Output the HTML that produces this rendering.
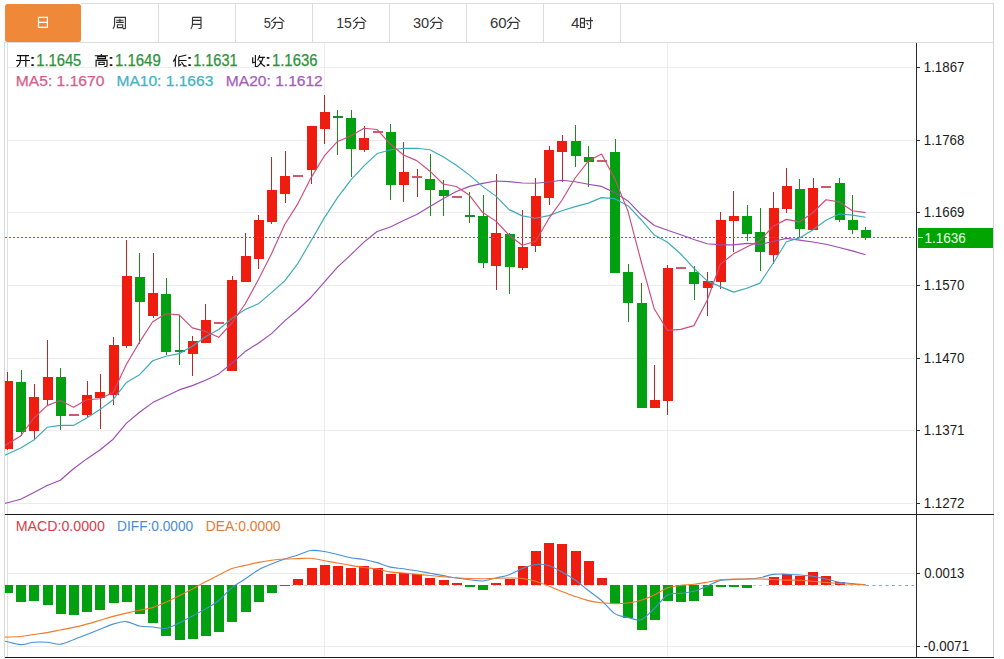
<!DOCTYPE html><html><head><meta charset='utf-8'><style>html,body{margin:0;padding:0;background:#fff;}body{width:1004px;height:659px;overflow:hidden;position:relative;}svg{display:block;position:absolute;left:0;top:0;}</style></head><body>
<svg width='1004' height='659' viewBox='0 0 1004 659' shape-rendering='auto'>
<rect x='0' y='0' width='1004' height='659' fill='#fff'/>
<g shape-rendering='crispEdges'>
<rect x='81' y='3' width='913' height='1' fill='#dcdcdc'/>
<rect x='5' y='42' width='989' height='1' fill='#dcdcdc'/>
<rect x='993' y='3' width='1' height='655' fill='#d4d4d4'/>
<rect x='4' y='42' width='1' height='616' fill='#d8d8d8'/>
<rect x='7' y='42' width='1' height='616' fill='#e0e0e0'/>
<rect x='158' y='4' width='1' height='38' fill='#dcdcdc'/>
<rect x='235' y='4' width='1' height='38' fill='#dcdcdc'/>
<rect x='312' y='4' width='1' height='38' fill='#dcdcdc'/>
<rect x='389' y='4' width='1' height='38' fill='#dcdcdc'/>
<rect x='466' y='4' width='1' height='38' fill='#dcdcdc'/>
<rect x='543' y='4' width='1' height='38' fill='#dcdcdc'/>
<rect x='620' y='4' width='1' height='38' fill='#dcdcdc'/>
</g>
<rect x='5' y='4' width='76' height='38' rx='2.5' fill='#f0883a'/>
<g shape-rendering='crispEdges'>
<rect x='8' y='67' width='906' height='1' fill='#ececec'/>
<rect x='8' y='140' width='906' height='1' fill='#ececec'/>
<rect x='8' y='212' width='906' height='1' fill='#ececec'/>
<rect x='8' y='285' width='906' height='1' fill='#ececec'/>
<rect x='8' y='358' width='906' height='1' fill='#ececec'/>
<rect x='8' y='430' width='906' height='1' fill='#ececec'/>
<rect x='8' y='503' width='906' height='1' fill='#ececec'/>
<rect x='8' y='573' width='906' height='1' fill='#ececec'/>
<rect x='8' y='646' width='906' height='1' fill='#ececec'/>
<rect x='324' y='43' width='1' height='614' fill='#ececec'/>
<rect x='667' y='43' width='1' height='614' fill='#ececec'/>
</g>
<defs><clipPath id='cl'><rect x='5' y='43' width='911' height='615'/></clipPath></defs>
<g shape-rendering='crispEdges' clip-path='url(#cl)'>
<rect x='7' y='372' width='1' height='78' fill='#b42a2a'/>
<rect x='3' y='381' width='10' height='68' fill='#ee1d10'/>
<rect x='21' y='370' width='1' height='66' fill='#1a8a1a'/>
<rect x='16' y='382' width='10' height='50' fill='#00a010'/>
<rect x='34' y='384' width='1' height='56' fill='#b42a2a'/>
<rect x='29' y='397' width='10' height='34' fill='#ee1d10'/>
<rect x='47' y='340' width='1' height='66' fill='#b42a2a'/>
<rect x='43' y='377' width='10' height='23' fill='#ee1d10'/>
<rect x='60' y='368' width='1' height='62' fill='#1a8a1a'/>
<rect x='56' y='377' width='10' height='39' fill='#00a010'/>
<rect x='69' y='414' width='10' height='2' fill='#cf5a6a'/>
<rect x='87' y='381' width='1' height='37' fill='#b42a2a'/>
<rect x='82' y='395' width='10' height='20' fill='#ee1d10'/>
<rect x='100' y='374' width='1' height='55' fill='#b42a2a'/>
<rect x='95' y='392' width='10' height='6' fill='#ee1d10'/>
<rect x='113' y='337' width='1' height='68' fill='#b42a2a'/>
<rect x='109' y='345' width='10' height='50' fill='#ee1d10'/>
<rect x='126' y='240' width='1' height='108' fill='#b42a2a'/>
<rect x='122' y='276' width='10' height='70' fill='#ee1d10'/>
<rect x='139' y='253' width='1' height='91' fill='#1a8a1a'/>
<rect x='135' y='277' width='10' height='25' fill='#00a010'/>
<rect x='153' y='253' width='1' height='65' fill='#b42a2a'/>
<rect x='148' y='293' width='10' height='23' fill='#ee1d10'/>
<rect x='166' y='278' width='1' height='77' fill='#1a8a1a'/>
<rect x='161' y='294' width='10' height='58' fill='#00a010'/>
<rect x='179' y='315' width='1' height='50' fill='#1a8a1a'/>
<rect x='175' y='350' width='10' height='2' fill='#1a8a2a'/>
<rect x='192' y='336' width='1' height='40' fill='#b42a2a'/>
<rect x='188' y='341' width='10' height='13' fill='#ee1d10'/>
<rect x='205' y='304' width='1' height='39' fill='#b42a2a'/>
<rect x='201' y='320' width='10' height='23' fill='#ee1d10'/>
<rect x='214' y='322' width='10' height='2' fill='#cf5a6a'/>
<rect x='232' y='276' width='1' height='95' fill='#b42a2a'/>
<rect x='227' y='280' width='10' height='91' fill='#ee1d10'/>
<rect x='245' y='233' width='1' height='49' fill='#b42a2a'/>
<rect x='241' y='256' width='10' height='26' fill='#ee1d10'/>
<rect x='258' y='215' width='1' height='54' fill='#b42a2a'/>
<rect x='254' y='220' width='10' height='39' fill='#ee1d10'/>
<rect x='271' y='157' width='1' height='67' fill='#b42a2a'/>
<rect x='267' y='190' width='10' height='32' fill='#ee1d10'/>
<rect x='285' y='151' width='1' height='52' fill='#b42a2a'/>
<rect x='280' y='176' width='10' height='18' fill='#ee1d10'/>
<rect x='293' y='175' width='10' height='2' fill='#cf5a6a'/>
<rect x='311' y='126' width='1' height='58' fill='#b42a2a'/>
<rect x='307' y='126' width='10' height='44' fill='#ee1d10'/>
<rect x='324' y='95' width='1' height='49' fill='#b42a2a'/>
<rect x='320' y='112' width='10' height='17' fill='#ee1d10'/>
<rect x='337' y='110' width='1' height='45' fill='#1a8a1a'/>
<rect x='333' y='116' width='10' height='2' fill='#1a8a2a'/>
<rect x='351' y='110' width='1' height='67' fill='#1a8a1a'/>
<rect x='346' y='118' width='10' height='31' fill='#00a010'/>
<rect x='364' y='126' width='1' height='26' fill='#b42a2a'/>
<rect x='359' y='138' width='10' height='12' fill='#ee1d10'/>
<rect x='373' y='131' width='10' height='2' fill='#cf5a6a'/>
<rect x='390' y='124' width='1' height='76' fill='#1a8a1a'/>
<rect x='386' y='132' width='10' height='53' fill='#00a010'/>
<rect x='403' y='142' width='1' height='60' fill='#b42a2a'/>
<rect x='399' y='172' width='10' height='13' fill='#ee1d10'/>
<rect x='417' y='169' width='1' height='28' fill='#b42a2a'/>
<rect x='412' y='176' width='10' height='2' fill='#cf5a6a'/>
<rect x='430' y='154' width='1' height='62' fill='#1a8a1a'/>
<rect x='425' y='179' width='10' height='11' fill='#00a010'/>
<rect x='443' y='180' width='1' height='36' fill='#1a8a1a'/>
<rect x='439' y='190' width='10' height='6' fill='#00a010'/>
<rect x='452' y='196' width='10' height='2' fill='#cf5a6a'/>
<rect x='469' y='192' width='1' height='31' fill='#1a8a1a'/>
<rect x='465' y='215' width='10' height='2' fill='#1a8a2a'/>
<rect x='483' y='195' width='1' height='73' fill='#1a8a1a'/>
<rect x='478' y='216' width='10' height='47' fill='#00a010'/>
<rect x='496' y='174' width='1' height='116' fill='#b42a2a'/>
<rect x='491' y='233' width='10' height='33' fill='#ee1d10'/>
<rect x='509' y='233' width='1' height='61' fill='#1a8a1a'/>
<rect x='505' y='234' width='10' height='33' fill='#00a010'/>
<rect x='522' y='210' width='1' height='60' fill='#b42a2a'/>
<rect x='518' y='247' width='10' height='21' fill='#ee1d10'/>
<rect x='535' y='178' width='1' height='74' fill='#b42a2a'/>
<rect x='531' y='196' width='10' height='50' fill='#ee1d10'/>
<rect x='549' y='146' width='1' height='59' fill='#b42a2a'/>
<rect x='544' y='150' width='10' height='48' fill='#ee1d10'/>
<rect x='562' y='135' width='1' height='47' fill='#b42a2a'/>
<rect x='557' y='141' width='10' height='11' fill='#ee1d10'/>
<rect x='575' y='125' width='1' height='42' fill='#1a8a1a'/>
<rect x='571' y='141' width='10' height='15' fill='#00a010'/>
<rect x='588' y='146' width='1' height='41' fill='#1a8a1a'/>
<rect x='584' y='157' width='10' height='5' fill='#00a010'/>
<rect x='597' y='160' width='10' height='2' fill='#cf5a6a'/>
<rect x='615' y='139' width='1' height='134' fill='#1a8a1a'/>
<rect x='610' y='152' width='10' height='121' fill='#00a010'/>
<rect x='628' y='264' width='1' height='58' fill='#1a8a1a'/>
<rect x='623' y='272' width='10' height='31' fill='#00a010'/>
<rect x='641' y='283' width='1' height='125' fill='#1a8a1a'/>
<rect x='637' y='303' width='10' height='105' fill='#00a010'/>
<rect x='654' y='365' width='1' height='43' fill='#b42a2a'/>
<rect x='650' y='400' width='10' height='8' fill='#ee1d10'/>
<rect x='667' y='265' width='1' height='150' fill='#b42a2a'/>
<rect x='663' y='268' width='10' height='133' fill='#ee1d10'/>
<rect x='676' y='267' width='10' height='2' fill='#cf5a6a'/>
<rect x='694' y='266' width='1' height='34' fill='#1a8a1a'/>
<rect x='689' y='272' width='10' height='12' fill='#00a010'/>
<rect x='707' y='272' width='1' height='44' fill='#b42a2a'/>
<rect x='703' y='281' width='10' height='7' fill='#ee1d10'/>
<rect x='720' y='212' width='1' height='77' fill='#b42a2a'/>
<rect x='716' y='220' width='10' height='62' fill='#ee1d10'/>
<rect x='733' y='191' width='1' height='61' fill='#b42a2a'/>
<rect x='729' y='216' width='10' height='5' fill='#ee1d10'/>
<rect x='747' y='205' width='1' height='36' fill='#1a8a1a'/>
<rect x='742' y='216' width='10' height='18' fill='#00a010'/>
<rect x='760' y='208' width='1' height='63' fill='#1a8a1a'/>
<rect x='755' y='232' width='10' height='20' fill='#00a010'/>
<rect x='773' y='192' width='1' height='72' fill='#b42a2a'/>
<rect x='769' y='208' width='10' height='47' fill='#ee1d10'/>
<rect x='786' y='168' width='1' height='45' fill='#b42a2a'/>
<rect x='782' y='186' width='10' height='23' fill='#ee1d10'/>
<rect x='799' y='179' width='1' height='58' fill='#1a8a1a'/>
<rect x='795' y='189' width='10' height='40' fill='#00a010'/>
<rect x='813' y='178' width='1' height='52' fill='#b42a2a'/>
<rect x='808' y='188' width='10' height='42' fill='#ee1d10'/>
<rect x='821' y='186' width='10' height='2' fill='#cf5a6a'/>
<rect x='839' y='178' width='1' height='44' fill='#1a8a1a'/>
<rect x='835' y='183' width='10' height='37' fill='#00a010'/>
<rect x='852' y='195' width='1' height='39' fill='#1a8a1a'/>
<rect x='848' y='220' width='10' height='10' fill='#00a010'/>
<rect x='865' y='227' width='1' height='13' fill='#1a8a1a'/>
<rect x='861' y='230' width='10' height='8' fill='#00a010'/>
</g>
<defs><clipPath id='cp'><rect x='5' y='43' width='911' height='471'/></clipPath><clipPath id='cm'><rect x='5' y='515' width='911' height='142'/></clipPath></defs>
<g clip-path='url(#cp)'>
<polyline fill='none' stroke='#9c4cb2' stroke-width='1.15' stroke-linejoin='round' points='5,503.34 7.5,502.7 20.7,499.3 33.9,492.4 47.1,485.5 60.3,480.2 73.5,468.8 86.71,458.9 99.91,450 113.11,439.2 126.31,423.4 139.51,412.2 152.71,402.6 165.91,396.2 179.11,389.9 192.31,385.6 205.51,380.3 218.71,373.9 231.92,363.3 245.12,351.6 258.32,343.2 271.52,333.65 284.72,320.82 297.92,309.78 311.12,297.23 324.32,282.06 337.52,267.18 350.72,254.88 363.92,242.16 377.13,231.5 390.33,226.93 403.53,220.41 416.73,214.58 429.93,206.51 443.13,198.78 456.33,191.58 469.53,186.38 482.73,183.41 495.93,181.04 509.13,181.6 522.34,182.95 535.54,183.25 548.74,181.97 561.94,180.21 575.14,181.7 588.34,184.22 601.54,186.41 614.74,192.62 627.94,200.92 641.14,214.69 654.34,225.46 667.55,230.26 680.75,234.82 693.95,239.53 707.15,243.75 720.35,244.9 733.55,244.9 746.75,243.44 759.95,244.41 773.15,241.48 786.35,238.43 799.55,240.06 812.75,241.96 825.96,244.28 839.16,247.47 852.36,250.86 865.56,254.7'/>
<polyline fill='none' stroke='#3aaab8' stroke-width='1.15' stroke-linejoin='round' points='5,455.14 7.5,454 20.7,448 33.9,440 47.1,427.3 60.3,425.4 73.5,425.4 86.71,417.9 99.91,409.6 113.11,399.7 126.31,382.56 139.51,374.7 152.71,360.77 165.91,356.27 179.11,353.67 192.31,346.22 205.51,336.75 218.71,329.53 231.92,318.38 245.12,309.44 258.32,303.84 271.52,292.6 284.72,280.87 297.92,263.29 311.12,240.79 324.32,217.89 337.52,197.61 350.72,180.22 363.92,165.93 377.13,153.56 390.33,150.02 403.53,148.22 416.73,148.3 429.93,149.73 443.13,156.78 456.33,165.28 469.53,175.16 482.73,186.6 495.93,196.15 509.13,209.64 522.34,215.88 535.54,218.28 548.74,215.64 561.94,210.69 575.14,206.62 588.34,203.15 601.54,197.65 614.74,198.65 627.94,205.68 641.14,219.74 654.34,235.04 667.55,242.24 680.75,254.01 693.95,268.36 707.15,280.88 720.35,286.65 733.55,292.15 746.75,288.23 759.95,283.14 773.15,263.21 786.35,241.82 799.55,237.89 812.75,229.91 825.96,220.19 839.16,214.05 852.36,215.06 865.56,217.24'/>
<polyline fill='none' stroke='#cc4c7a' stroke-width='1.15' stroke-linejoin='round' points='5,445.52 7.5,444 20.7,436 33.9,418 47.1,405.6 60.3,400.56 73.5,407.3 86.71,399.78 99.91,398.78 113.11,392.46 126.31,364.56 139.51,342.1 152.71,321.76 165.91,313.76 179.11,314.88 192.31,327.88 205.51,331.4 218.71,337.3 231.92,323 245.12,304 258.32,279.8 271.52,253.8 284.72,224.44 297.92,203.58 311.12,177.58 324.32,155.98 337.52,141.42 350.72,136 363.92,128.28 377.13,129.54 390.33,144.06 403.53,155.02 416.73,160.6 429.93,171.18 443.13,184.02 456.33,186.5 469.53,195.3 482.73,212.6 495.93,221.12 509.13,235.26 522.34,245.26 535.54,241.26 548.74,218.68 561.94,200.26 575.14,177.98 588.34,161.04 601.54,154.04 614.74,178.62 627.94,211.1 641.14,261.5 654.34,309.04 667.55,330.44 680.75,329.4 693.95,325.62 707.15,300.26 720.35,264.26 733.55,253.86 746.75,247.06 759.95,240.66 773.15,226.16 786.35,219.38 799.55,221.92 812.75,212.76 825.96,199.72 839.16,201.94 852.36,210.74 865.56,212.56'/>
</g>
<line x1='5' y1='237.5' x2='914' y2='237.5' stroke='#3a8a3a' stroke-width='1' stroke-dasharray='2,2'/>
<line x1='5' y1='585.5' x2='866' y2='585.5' stroke='#c4d2de' stroke-width='1' stroke-dasharray='3,3.5' shape-rendering='crispEdges'/>
<g shape-rendering='crispEdges' clip-path='url(#cl)'>
<rect x='3' y='585' width='10' height='8' fill='#00a010'/>
<rect x='16' y='585' width='10' height='17' fill='#00a010'/>
<rect x='29' y='585' width='10' height='16' fill='#00a010'/>
<rect x='43' y='585' width='10' height='20' fill='#00a010'/>
<rect x='56' y='585' width='10' height='29' fill='#00a010'/>
<rect x='69' y='585' width='10' height='30' fill='#00a010'/>
<rect x='82' y='585' width='10' height='27' fill='#00a010'/>
<rect x='95' y='585' width='10' height='25' fill='#00a010'/>
<rect x='109' y='585' width='10' height='18' fill='#00a010'/>
<rect x='122' y='585' width='10' height='17' fill='#00a010'/>
<rect x='135' y='585' width='10' height='29' fill='#00a010'/>
<rect x='148' y='585' width='10' height='38' fill='#00a010'/>
<rect x='161' y='585' width='10' height='51' fill='#00a010'/>
<rect x='175' y='585' width='10' height='55' fill='#00a010'/>
<rect x='188' y='585' width='10' height='54' fill='#00a010'/>
<rect x='201' y='585' width='10' height='51' fill='#00a010'/>
<rect x='214' y='585' width='10' height='47' fill='#00a010'/>
<rect x='227' y='585' width='10' height='37' fill='#00a010'/>
<rect x='241' y='585' width='10' height='27' fill='#00a010'/>
<rect x='254' y='585' width='10' height='17' fill='#00a010'/>
<rect x='267' y='585' width='10' height='8' fill='#00a010'/>
<rect x='280' y='585' width='10' height='1' fill='#00a010'/>
<rect x='293' y='579' width='10' height='6' fill='#ee1d10'/>
<rect x='307' y='568' width='10' height='17' fill='#ee1d10'/>
<rect x='320' y='565' width='10' height='20' fill='#ee1d10'/>
<rect x='333' y='566' width='10' height='19' fill='#ee1d10'/>
<rect x='346' y='568' width='10' height='17' fill='#ee1d10'/>
<rect x='359' y='566' width='10' height='19' fill='#ee1d10'/>
<rect x='373' y='568' width='10' height='17' fill='#ee1d10'/>
<rect x='386' y='574' width='10' height='11' fill='#ee1d10'/>
<rect x='399' y='573' width='10' height='12' fill='#ee1d10'/>
<rect x='412' y='574' width='10' height='11' fill='#ee1d10'/>
<rect x='425' y='578' width='10' height='7' fill='#ee1d10'/>
<rect x='439' y='580' width='10' height='5' fill='#ee1d10'/>
<rect x='452' y='583' width='10' height='2' fill='#ee1d10'/>
<rect x='465' y='585' width='10' height='2' fill='#00a010'/>
<rect x='478' y='585' width='10' height='5' fill='#00a010'/>
<rect x='491' y='583' width='10' height='2' fill='#ee1d10'/>
<rect x='505' y='579' width='10' height='6' fill='#ee1d10'/>
<rect x='518' y='566' width='10' height='19' fill='#ee1d10'/>
<rect x='531' y='551' width='10' height='34' fill='#ee1d10'/>
<rect x='544' y='543' width='10' height='42' fill='#ee1d10'/>
<rect x='557' y='544' width='10' height='41' fill='#ee1d10'/>
<rect x='571' y='551' width='10' height='34' fill='#ee1d10'/>
<rect x='584' y='561' width='10' height='24' fill='#ee1d10'/>
<rect x='597' y='578' width='10' height='7' fill='#ee1d10'/>
<rect x='610' y='585' width='10' height='19' fill='#00a010'/>
<rect x='623' y='585' width='10' height='33' fill='#00a010'/>
<rect x='637' y='585' width='10' height='45' fill='#00a010'/>
<rect x='650' y='585' width='10' height='35' fill='#00a010'/>
<rect x='663' y='585' width='10' height='16' fill='#00a010'/>
<rect x='676' y='585' width='10' height='17' fill='#00a010'/>
<rect x='689' y='585' width='10' height='16' fill='#00a010'/>
<rect x='703' y='585' width='10' height='11' fill='#00a010'/>
<rect x='716' y='585' width='10' height='2' fill='#00a010'/>
<rect x='729' y='585' width='10' height='2' fill='#00a010'/>
<rect x='742' y='585' width='10' height='3' fill='#00a010'/>
<rect x='769' y='577' width='10' height='8' fill='#ee1d10'/>
<rect x='782' y='574' width='10' height='11' fill='#ee1d10'/>
<rect x='795' y='576' width='10' height='9' fill='#ee1d10'/>
<rect x='808' y='572' width='10' height='13' fill='#ee1d10'/>
<rect x='821' y='576' width='10' height='9' fill='#ee1d10'/>
<rect x='835' y='582' width='10' height='3' fill='#ee1d10'/>
</g>
<g clip-path='url(#cm)'>
<path fill='none' stroke='#4a90d4' stroke-width='1.1' d='M5,641.27 C5.42,641.36 4.88,641.24 7.5,641.8 C10.12,642.36 16.3,644.52 20.7,644.6 C25.1,644.68 29.5,642.68 33.9,642.3 C38.3,641.92 42.7,641.98 47.1,642.3 C51.5,642.62 55.9,644.63 60.3,644.2 C64.7,643.77 69.1,641.32 73.5,639.7 C77.9,638.08 82.31,636.23 86.71,634.5 C91.11,632.77 95.51,631.03 99.91,629.3 C104.31,627.57 108.71,625.38 113.11,624.1 C117.51,622.82 121.91,621.28 126.31,621.6 C130.71,621.92 135.11,625.1 139.51,626 C143.91,626.9 148.31,626.6 152.71,627 C157.11,627.4 161.51,629.07 165.91,628.4 C170.31,627.73 174.71,625.07 179.11,623 C183.51,620.93 187.91,618.35 192.31,616 C196.71,613.65 201.11,611.48 205.51,608.9 C209.91,606.32 214.31,604.05 218.71,600.5 C223.11,596.95 227.51,591.18 231.92,587.6 C236.32,584.02 240.72,581.93 245.12,579 C249.52,576.07 253.92,572.5 258.32,570 C262.72,567.5 267.12,565.82 271.52,564 C275.92,562.18 280.32,560.62 284.72,559.1 C289.12,557.58 293.52,556.33 297.92,554.9 C302.32,553.47 306.72,551.07 311.12,550.5 C315.52,549.93 319.92,550.83 324.32,551.5 C328.72,552.17 333.12,553.47 337.52,554.5 C341.92,555.53 346.32,556.87 350.72,557.7 C355.12,558.53 359.52,558.68 363.92,559.5 C368.32,560.32 372.72,561.33 377.13,562.6 C381.53,563.87 385.93,566.08 390.33,567.1 C394.73,568.12 399.13,568.08 403.53,568.7 C407.93,569.32 412.33,570.05 416.73,570.8 C421.13,571.55 425.53,572.4 429.93,573.2 C434.33,574 438.73,574.8 443.13,575.6 C447.53,576.4 451.93,577.32 456.33,578 C460.73,578.68 465.13,579.2 469.53,579.7 C473.93,580.2 478.33,581.28 482.73,581 C487.13,580.72 491.53,579.05 495.93,578 C500.33,576.95 504.73,576.28 509.13,574.7 C513.53,573.12 517.93,570.2 522.34,568.5 C526.74,566.8 531.14,565 535.54,564.5 C539.94,564 544.34,564.25 548.74,565.5 C553.14,566.75 557.54,569.58 561.94,572 C566.34,574.42 570.74,576.92 575.14,580 C579.54,583.08 583.94,587.08 588.34,590.5 C592.74,593.92 597.14,596.65 601.54,600.5 C605.94,604.35 610.34,610.77 614.74,613.6 C619.14,616.43 623.54,616.48 627.94,617.5 C632.34,618.52 636.74,621.2 641.14,619.7 C645.54,618.2 649.94,612.62 654.34,608.5 C658.74,604.38 663.14,597.52 667.55,595 C671.95,592.48 676.35,594.02 680.75,593.4 C685.15,592.78 689.55,592.5 693.95,591.3 C698.35,590.1 702.75,588.02 707.15,586.2 C711.55,584.38 715.95,581.52 720.35,580.4 C724.75,579.28 729.15,579.73 733.55,579.5 C737.95,579.27 742.35,579.3 746.75,579 C751.15,578.7 755.55,578.47 759.95,577.7 C764.35,576.93 768.75,574.98 773.15,574.4 C777.55,573.82 781.95,574.1 786.35,574.2 C790.75,574.3 795.15,574.67 799.55,575 C803.95,575.33 808.35,575.53 812.75,576.2 C817.16,576.87 821.56,578 825.96,579 C830.36,580 834.76,581.43 839.16,582.2 C843.56,582.97 847.96,583.18 852.36,583.6 C856.76,584.02 863.36,584.52 865.56,584.7'/>
<path fill='none' stroke='#f07a2a' stroke-width='1.1' d='M5,637.09 C5.42,637.08 4.88,637.1 7.5,637 C10.12,636.9 16.3,636.92 20.7,636.5 C25.1,636.08 29.5,635.15 33.9,634.5 C38.3,633.85 42.7,633.35 47.1,632.6 C51.5,631.85 55.9,630.87 60.3,630 C64.7,629.13 69.1,628.38 73.5,627.4 C77.9,626.42 82.31,625.28 86.71,624.1 C91.11,622.92 95.51,621.58 99.91,620.3 C104.31,619.02 108.71,617.6 113.11,616.4 C117.51,615.2 121.91,614.13 126.31,613.1 C130.71,612.07 135.11,611.12 139.51,610.2 C143.91,609.28 148.31,608.93 152.71,607.6 C157.11,606.27 161.51,604.17 165.91,602.2 C170.31,600.23 174.71,598 179.11,595.8 C183.51,593.6 187.91,591.33 192.31,589 C196.71,586.67 201.11,584.12 205.51,581.8 C209.91,579.48 214.31,577.3 218.71,575.1 C223.11,572.9 227.51,570.22 231.92,568.6 C236.32,566.98 240.72,566.43 245.12,565.4 C249.52,564.37 253.92,563.27 258.32,562.4 C262.72,561.53 267.12,560.77 271.52,560.2 C275.92,559.63 280.32,559.27 284.72,559 C289.12,558.73 293.52,558.72 297.92,558.6 C302.32,558.48 306.72,557.95 311.12,558.3 C315.52,558.65 319.92,559.92 324.32,560.7 C328.72,561.48 333.12,562.22 337.52,563 C341.92,563.78 346.32,564.65 350.72,565.4 C355.12,566.15 359.52,566.9 363.92,567.5 C368.32,568.1 372.72,568.27 377.13,569 C381.53,569.73 385.93,571.23 390.33,571.9 C394.73,572.57 399.13,572.6 403.53,573 C407.93,573.4 412.33,573.88 416.73,574.3 C421.13,574.72 425.53,575.08 429.93,575.5 C434.33,575.92 438.73,576.42 443.13,576.8 C447.53,577.18 451.93,577.52 456.33,577.8 C460.73,578.08 465.13,578.35 469.53,578.5 C473.93,578.65 478.33,578.75 482.73,578.7 C487.13,578.65 491.53,578.32 495.93,578.2 C500.33,578.08 504.73,577.95 509.13,578 C513.53,578.05 517.93,577.97 522.34,578.5 C526.74,579.03 531.14,579.95 535.54,581.2 C539.94,582.45 544.34,584.28 548.74,586 C553.14,587.72 557.54,589.75 561.94,591.5 C566.34,593.25 570.74,594.98 575.14,596.5 C579.54,598.02 583.94,599.55 588.34,600.6 C592.74,601.65 597.14,602.3 601.54,602.8 C605.94,603.3 610.34,603.57 614.74,603.6 C619.14,603.63 623.54,603.57 627.94,603 C632.34,602.43 636.74,601.53 641.14,600.2 C645.54,598.87 649.94,597.07 654.34,595 C658.74,592.93 663.14,589.4 667.55,587.8 C671.95,586.2 676.35,585.98 680.75,585.4 C685.15,584.82 689.55,584.83 693.95,584.3 C698.35,583.77 702.75,582.95 707.15,582.2 C711.55,581.45 715.95,580.33 720.35,579.8 C724.75,579.27 729.15,579.13 733.55,579 C737.95,578.87 742.35,579 746.75,579 C751.15,579 755.55,578.92 759.95,579 C764.35,579.08 768.75,579.32 773.15,579.5 C777.55,579.68 781.95,579.97 786.35,580.1 C790.75,580.23 795.15,580.1 799.55,580.3 C803.95,580.5 808.35,580.93 812.75,581.3 C817.16,581.67 821.56,582.13 825.96,582.5 C830.36,582.87 834.76,583.2 839.16,583.5 C843.56,583.8 847.96,584.1 852.36,584.3 C856.76,584.5 863.36,584.63 865.56,584.7'/>
</g>
<line x1='866' y1='585.5' x2='914' y2='585.5' stroke='#8aa6c0' stroke-width='1' stroke-dasharray='3,3.5'/>
<g shape-rendering='crispEdges'>
<rect x='5' y='514' width='989' height='1' fill='#1a1a1a'/>
<rect x='5' y='657' width='989' height='1' fill='#1a1a1a'/>
<rect x='916' y='43' width='1' height='615' fill='#2a2a2a'/>
<rect x='916' y='67' width='4' height='1' fill='#2a2a2a'/>
<rect x='916' y='140' width='4' height='1' fill='#2a2a2a'/>
<rect x='916' y='212' width='4' height='1' fill='#2a2a2a'/>
<rect x='916' y='285' width='4' height='1' fill='#2a2a2a'/>
<rect x='916' y='358' width='4' height='1' fill='#2a2a2a'/>
<rect x='916' y='430' width='4' height='1' fill='#2a2a2a'/>
<rect x='916' y='503' width='4' height='1' fill='#2a2a2a'/>
<rect x='916' y='573' width='4' height='1' fill='#2a2a2a'/>
<rect x='916' y='646' width='4' height='1' fill='#2a2a2a'/>
</g>
<g font-family="'Liberation Sans', sans-serif">
<text x='923.79' y='71.9' font-size='14.2' fill='#1a1a1a' textLength='40.68' lengthAdjust='spacingAndGlyphs'>1.1867</text>
<text x='923.79' y='144.9' font-size='14.2' fill='#1a1a1a' textLength='40.59' lengthAdjust='spacingAndGlyphs'>1.1768</text>
<text x='923.79' y='216.9' font-size='14.2' fill='#1a1a1a' textLength='40.64' lengthAdjust='spacingAndGlyphs'>1.1669</text>
<text x='923.79' y='289.9' font-size='14.2' fill='#1a1a1a' textLength='40.53' lengthAdjust='spacingAndGlyphs'>1.1570</text>
<text x='923.79' y='362.9' font-size='14.2' fill='#1a1a1a' textLength='40.53' lengthAdjust='spacingAndGlyphs'>1.1470</text>
<text x='923.79' y='434.9' font-size='14.2' fill='#1a1a1a' textLength='40.66' lengthAdjust='spacingAndGlyphs'>1.1371</text>
<text x='923.79' y='507.9' font-size='14.2' fill='#1a1a1a' textLength='40.68' lengthAdjust='spacingAndGlyphs'>1.1272</text>
<text x='924.29' y='577.9' font-size='14.2' fill='#1a1a1a' textLength='40.09' lengthAdjust='spacingAndGlyphs'>0.0013</text>
<text x='923.5' y='650.9' font-size='14.2' fill='#1a1a1a' textLength='45.55' lengthAdjust='spacingAndGlyphs'>-0.0071</text>
</g>
<rect x='918' y='228' width='75' height='20' fill='#00a400'/>
<rect x='918' y='237' width='5' height='1' fill='#e8ffe8'/>
<g font-family="'Liberation Sans', sans-serif">
<text x='924.47' y='242.9' font-size='13.8' fill='#eaffea' textLength='41.43' lengthAdjust='spacingAndGlyphs'>1.1636</text>
</g>
<g><path d='M38.5,17.3 H47.4 V28 M38.5,17.3 V28 M38.5,22.4 H47.4 M38.5,27.4 H47.4' fill='none' stroke='#ffffff' stroke-width='1.2' stroke-linecap='butt' stroke-linejoin='miter'/><path d='M114.6,17.4 H125.4 V28.2 Q125.4,28.6 124.6,28.6 H123 M114.6,17.4 V24.5 Q114.4,27.4 112.9,28.9 M116.3,20.2 H123.5 M119.9,18.8 V22.3 M116,22.4 H123.8 M117.4,24.7 H122.7 V27.6 H117.4 Z' fill='none' stroke='#333333' stroke-width='1.15' stroke-linecap='butt' stroke-linejoin='miter'/><path d='M192.5,17.3 H201 V28 Q201,28.5 200.2,28.5 H198.4 M192.5,17.3 V24 Q192.3,27 190.8,28.8 M192.5,20.3 H201 M192.5,24.3 H201' fill='none' stroke='#333333' stroke-width='1.15' stroke-linecap='butt' stroke-linejoin='miter'/><path d='M5.3,0.2 L0.3,4.6 M8.3,0.2 L13.6,4.6 M2.3,5.4 H11.3 V11 Q11.3,11.5 10.5,11.5 H6.8 M4.7,5.4 Q4.4,9.6 0.5,11.7' fill='none' stroke='#333333' stroke-width='1.15' stroke-linecap='butt' stroke-linejoin='miter' transform='translate(270.8,17)'/><path d='M5.3,0.2 L0.3,4.6 M8.3,0.2 L13.6,4.6 M2.3,5.4 H11.3 V11 Q11.3,11.5 10.5,11.5 H6.8 M4.7,5.4 Q4.4,9.6 0.5,11.7' fill='none' stroke='#333333' stroke-width='1.15' stroke-linecap='butt' stroke-linejoin='miter' transform='translate(352.6,17)'/><path d='M5.3,0.2 L0.3,4.6 M8.3,0.2 L13.6,4.6 M2.3,5.4 H11.3 V11 Q11.3,11.5 10.5,11.5 H6.8 M4.7,5.4 Q4.4,9.6 0.5,11.7' fill='none' stroke='#333333' stroke-width='1.15' stroke-linecap='butt' stroke-linejoin='miter' transform='translate(429.6,17)'/><path d='M5.3,0.2 L0.3,4.6 M8.3,0.2 L13.6,4.6 M2.3,5.4 H11.3 V11 Q11.3,11.5 10.5,11.5 H6.8 M4.7,5.4 Q4.4,9.6 0.5,11.7' fill='none' stroke='#333333' stroke-width='1.15' stroke-linecap='butt' stroke-linejoin='miter' transform='translate(506.6,17)'/><path d='M580.5,18.4 H584.4 V27.4 H580.5 Z M580.5,22.8 H584.4 M585.4,20.6 H593 M590.6,17.2 V28.1 Q590.6,28.6 589.8,28.6 H587.8 M586.7,22.9 L588.2,24.8' fill='none' stroke='#333333' stroke-width='1.15' stroke-linecap='butt' stroke-linejoin='miter'/><path d='M17,55.6 H29 M16,60.5 H30 M20.4,55.6 V60.5 Q20.2,64.2 16.8,66.8 M25.8,55.6 V66.8' fill='none' stroke='#111111' stroke-width='1.2' stroke-linecap='butt' stroke-linejoin='miter'/><path d='M101.3,53.9 V55.5 M94.8,55.7 H108 M97.7,56.6 H105.5 V58.6 H97.7 Z M96.1,66.8 V60.4 H107 V66 Q107,66.5 106.2,66.5 H104.3 M98.9,62.2 H104.2 V64.5 H98.9 Z' fill='none' stroke='#111111' stroke-width='1.15' stroke-linecap='butt' stroke-linejoin='miter'/><path d='M176.6,54.7 Q175.5,58.6 173.3,61.6 M175.3,58.6 V66.8 M186.3,55 Q182.5,56.3 178.7,56.8 M178.8,56.8 V65.6 Q180.2,65 181.2,64.3 M178.8,60.5 H186.6 M181.6,62.1 Q183,65.6 186.6,66.4 M183.6,65.3 L184.3,66.8' fill='none' stroke='#111111' stroke-width='1.15' stroke-linecap='butt' stroke-linejoin='miter'/><path d='M252.7,57.2 V62.8 L255.5,62 M255.4,54.9 V66.5 H257.8 M259.7,55.2 Q259,58 257.6,60.4 M258.8,57.3 H264.9 M263.1,57.4 Q261.6,63.5 257.4,66.6 M259.6,60.2 Q261.4,64.8 265.2,66.6' fill='none' stroke='#111111' stroke-width='1.15' stroke-linecap='butt' stroke-linejoin='miter'/></g>
<g font-family="'Liberation Sans', sans-serif">
<text x='263.78' y='27.8' font-size='15' fill='#333333' textLength='7.16' lengthAdjust='spacingAndGlyphs'>5</text>
<text x='336.23' y='27.8' font-size='15' fill='#333333' textLength='15.55' lengthAdjust='spacingAndGlyphs'>15</text>
<text x='412.94' y='27.8' font-size='15' fill='#333333' textLength='16.23' lengthAdjust='spacingAndGlyphs'>30</text>
<text x='489.94' y='27.8' font-size='15' fill='#333333' textLength='16.64' lengthAdjust='spacingAndGlyphs'>60</text>
<text x='570.95' y='27.8' font-size='15' fill='#333333' textLength='8.5' lengthAdjust='spacingAndGlyphs'>4</text>
</g>
<g font-family="'Liberation Sans', sans-serif">
<text x='36.18' y='65.9' font-size='15.8' fill='#2c923c' textLength='45.14' lengthAdjust='spacingAndGlyphs' stroke='#2c923c' stroke-width='0.25'>1.1645</text>
<text x='114.96' y='65.9' font-size='15.8' fill='#2c923c' textLength='45.85' lengthAdjust='spacingAndGlyphs' stroke='#2c923c' stroke-width='0.25'>1.1649</text>
<text x='193.2' y='65.9' font-size='15.8' fill='#2c923c' textLength='44.31' lengthAdjust='spacingAndGlyphs' stroke='#2c923c' stroke-width='0.25'>1.1631</text>
<text x='271.97' y='65.9' font-size='15.8' fill='#2c923c' textLength='45.49' lengthAdjust='spacingAndGlyphs' stroke='#2c923c' stroke-width='0.25'>1.1636</text>
<text x='28.9' y='65.9' font-size='15.8' fill='#111111' textLength='7' lengthAdjust='spacingAndGlyphs'>:</text>
<text x='107.5' y='65.9' font-size='15.8' fill='#111111' textLength='7' lengthAdjust='spacingAndGlyphs'>:</text>
<text x='186' y='65.9' font-size='15.8' fill='#111111' textLength='7' lengthAdjust='spacingAndGlyphs'>:</text>
<text x='264.5' y='65.9' font-size='15.8' fill='#111111' textLength='7' lengthAdjust='spacingAndGlyphs'>:</text>
<text x='15.82' y='85.9' font-size='15.1' fill='#d65c88' textLength='88.59' lengthAdjust='spacingAndGlyphs' stroke='#d65c88' stroke-width='0.25'>MA5: 1.1670</text>
<text x='116.53' y='85.5' font-size='15.1' fill='#44b2c2' textLength='96.76' lengthAdjust='spacingAndGlyphs' stroke='#44b2c2' stroke-width='0.25'>MA10: 1.1663</text>
<text x='225.82' y='85.5' font-size='15.1' fill='#a45cba' textLength='96.96' lengthAdjust='spacingAndGlyphs' stroke='#a45cba' stroke-width='0.25'>MA20: 1.1612</text>
<text x='15.63' y='530.9' font-size='14.4' fill='#d4404a' textLength='89.22' lengthAdjust='spacingAndGlyphs'>MACD:0.0000</text>
<text x='117.08' y='530.8' font-size='14.4' fill='#4a8cd4' textLength='76.16' lengthAdjust='spacingAndGlyphs'>DIFF:0.0000</text>
<text x='205.86' y='530.8' font-size='14.4' fill='#e27a34' textLength='74.68' lengthAdjust='spacingAndGlyphs'>DEA:0.0000</text>
</g>
</svg></body></html>
